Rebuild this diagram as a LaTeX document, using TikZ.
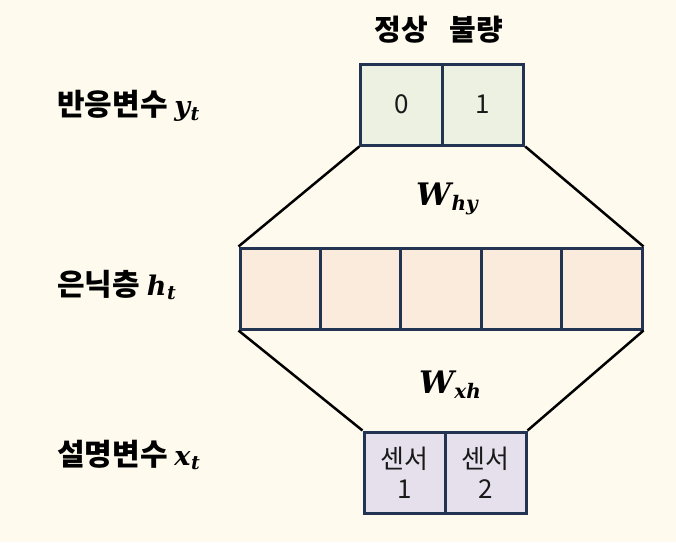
\documentclass[tikz,border=0pt]{standalone}
\usepackage{fontspec}
\newfontfamily\kr{Noto Sans CJK KR}
\newfontfamily\mbi{DejaVu Serif}
\newcommand\mvar[4]{{\mbi\bfseries\itshape\fontsize{#3}{#3}\selectfont #1\kern0.02em\raisebox{-0.17em}{\fontsize{#4}{#4}\selectfont #2}}}
\definecolor{bgc}{HTML}{FEFAEE}
\definecolor{navy}{HTML}{223452}
\definecolor{greenc}{HTML}{EDF1E2}
\definecolor{peachc}{HTML}{FBEBDD}
\definecolor{lilac}{HTML}{E5E0EC}
\tikzset{
  cellbox/.style={draw=navy, line width=3pt, minimum height=81pt, inner sep=0pt, font=\kr\fontsize{26}{29}\selectfont, text=black!90},
  outcell/.style={cellbox, fill=greenc, minimum width=81.5pt},
  hidcell/.style={cellbox, fill=peachc, minimum width=80.4pt},
  incell/.style={cellbox, fill=lilac, minimum width=81pt, align=center, font=\kr\fontsize{26}{30}\selectfont},
  conn/.style={draw=black, line width=2.5pt},
  rowlabel/.style={anchor=west, inner sep=0pt, font=\kr\bfseries\fontsize{30}{34}\selectfont},
  headlabel/.style={inner sep=0pt, font=\kr\bfseries\fontsize{29}{32}\selectfont},
  wlabel/.style={inner sep=0pt}
}
\begin{document}
\begin{tikzpicture}[x=1pt,y=-1pt]
\useasboundingbox[fill=bgc] (0,0) rectangle (676,542);
% output layer
\node[outcell] (t1) at (401.5,104.5) {0};
\node[outcell] (t2) at (483,104.5) {1};
% hidden layer
\node[hidcell] (h1) at (280.2,288.5) {};
\node[hidcell] (h2) at (360.6,288.5) {};
\node[hidcell] (h3) at (441,288.5) {};
\node[hidcell] (h4) at (521.4,288.5) {};
\node[hidcell] (h5) at (601.8,288.5) {};
% input layer
\node[incell] (b1) at (404.5,472.5) {센서\\1};
\node[incell] (b2) at (485.5,472.5) {센서\\2};
% connectors
\draw[conn] (t1.south west) -- (h1.north west);
\draw[conn] (t2.south east) -- (h5.north east);
\draw[conn] (h1.south west) -- (b1.north west);
\draw[conn] (h5.south east) -- (b2.north east);
% labels
\node[headlabel] (n1) at (401,30) {정상};
\node[headlabel] (n2) at (476,30) {불량};
\node[wlabel] (w1) at (447,199) {\mvar{W}{hy}{31}{20}};
\node[wlabel] (w2) at (450,385) {\mvar{W}{xh}{31}{20}};
\node[rowlabel] (l1) at (57,106) {반응변수 \mvar{y}{t}{27}{19}};
\node[rowlabel] (l2) at (57,285) {은닉층 \mvar{h}{t}{27}{19}};
\node[rowlabel] (l3) at (57,455) {설명변수 \mvar{x}{t}{27}{19}};
\end{tikzpicture}
\end{document}
